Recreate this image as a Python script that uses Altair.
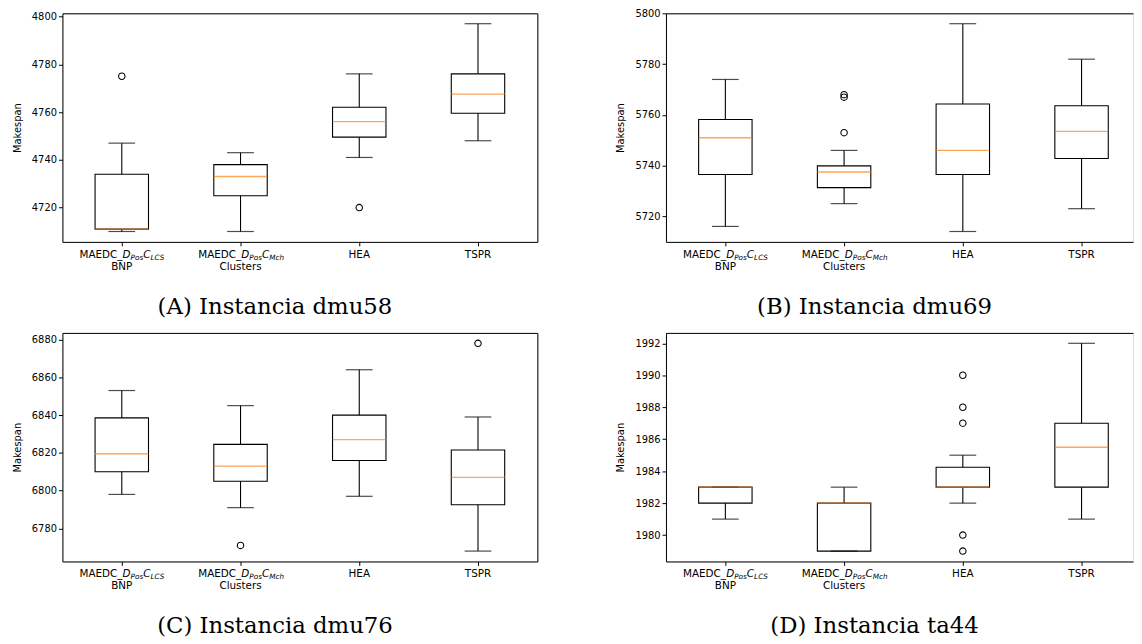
import altair as alt
import pandas as pd

CATS = ["MAEDC_BNP", "MAEDC_Clusters", "HEA", "TSPR"]

PANEL_TITLES = ["(A) Instancia dmu58", "(B) Instancia dmu69",
                "(C) Instancia dmu76", "(D) Instancia ta44"]

# ---- Panel A : dmu58 ----
A_LO = [4710, 4710, 4741, 4748]
A_Q1 = [4711, 4725, 4749.5, 4759.5]
A_MED = [4711, 4733, 4756, 4767.5]
A_Q3 = [4734, 4738, 4762, 4776]
A_HI = [4747, 4743, 4776, 4797]
A_OUT_CAT = ["MAEDC_BNP", "HEA"]
A_OUT_VAL = [4775, 4720]
A_TICKS = [4720, 4740, 4760, 4780, 4800]

# ---- Panel B : dmu69 ----
B_LO = [5716, 5725, 5714, 5723]
B_Q1 = [5736.5, 5731.3, 5736.5, 5742.8]
B_MED = [5751, 5737.5, 5746, 5753.5]
B_Q3 = [5758.2, 5739.9, 5764.3, 5763.6]
B_HI = [5774, 5746, 5796, 5782]
B_OUT_CAT = ["MAEDC_Clusters", "MAEDC_Clusters", "MAEDC_Clusters"]
B_OUT_VAL = [5753, 5767, 5768]
B_TICKS = [5720, 5740, 5760, 5780, 5800]

# ---- Panel C : dmu76 ----
C_LO = [6798, 6791, 6797, 6768]
C_Q1 = [6810, 6805, 6816, 6792.5]
C_MED = [6819.5, 6813, 6827, 6807]
C_Q3 = [6838.5, 6824.5, 6840, 6821.5]
C_HI = [6853, 6845, 6864, 6839]
C_OUT_CAT = ["MAEDC_Clusters", "TSPR"]
C_OUT_VAL = [6771, 6878]
C_TICKS = [6780, 6800, 6820, 6840, 6860, 6880]

# ---- Panel D : ta44 ----
D_LO = [1981, 1979, 1982, 1981]
D_Q1 = [1982, 1979, 1983, 1983]
D_MED = [1983, 1982, 1983, 1985.5]
D_Q3 = [1983, 1982, 1984.25, 1987]
D_HI = [1983, 1983, 1985, 1992]
D_OUT_CAT = ["HEA", "HEA", "HEA", "HEA", "HEA"]
D_OUT_VAL = [1990, 1988, 1987, 1980, 1979]
D_TICKS = [1980, 1982, 1984, 1986, 1988, 1990, 1992]

# ---- x tick label pieces ----
LBL_PRE = ["MAEDC_", "MAEDC_", "", ""]
LBL_D = ["D", "D", "", ""]
LBL_POS = ["Pos", "Pos", "", ""]
LBL_C = ["C", "C", "", ""]
LBL_SUB = ["LCS", "Mch", "", ""]
LBL_LINE2 = ["BNP", "Clusters", "", ""]
LBL_SINGLE = ["", "", "HEA", "TSPR"]

STEP = 120
H = 231
FONT = "DejaVu Sans"
ORANGE = "#ff7f0e"


def panel(lo, q1, med, q3, hi, out_cat, out_val, ticks, title, width, right_border):
    df = pd.DataFrame({"cat": CATS, "lo": lo, "q1": q1, "med": med, "q3": q3, "hi": hi})
    od = pd.DataFrame({"cat": out_cat, "val": out_val})
    ld = pd.DataFrame({"cat": CATS, "pre": LBL_PRE, "d": LBL_D, "pos": LBL_POS,
                       "c": LBL_C, "sub": LBL_SUB, "l2": LBL_LINE2, "single": LBL_SINGLE})
    allv = list(lo) + list(hi) + list(out_val)
    vmin, vmax = min(allv), max(allv)
    m = 0.05 * (vmax - vmin)
    ys = alt.Scale(domain=[vmin - m, vmax + m], nice=False, zero=False)
    pad = (width / STEP - 3) / 2
    align = (STEP / 2) / (width - 3 * STEP)
    xs = alt.Scale(type="point", domain=CATS, padding=pad, align=align)

    x_bottom = alt.Axis(title=None, labels=False, ticks=True, tickSize=4, tickColor="black",
                        domainColor="black", grid=False, orient="bottom")
    x_top = alt.Axis(title=None, labels=False, ticks=False, domainColor="black",
                     grid=False, orient="top")
    y_left = alt.Axis(title="Makespan", values=ticks, format="d", orient="left",
                      labelFont=FONT, labelFontSize=10, labelColor="black", labelPadding=2,
                      tickSize=4, tickColor="black", domainColor="black", grid=False,
                      titleFont=FONT, titleFontSize=10, titleFontWeight="normal",
                      titleColor="black", titlePadding=9)
    y_right = alt.Axis(title=None, labels=False, ticks=False, domainColor="black",
                       grid=False, orient="right") if right_border else None

    base = alt.Chart(df)
    X0 = alt.X("cat:N", scale=xs, axis=None)

    w_lo = base.mark_rule(color="black", strokeWidth=1.1).encode(
        x=alt.X("cat:N", scale=xs, axis=x_bottom),
        y=alt.Y("lo:Q", scale=ys, axis=y_left), y2="q1:Q")
    w_hi = base.mark_rule(color="black", strokeWidth=1.1).encode(
        x=alt.X("cat:N", scale=xs, axis=x_top),
        y=alt.Y("q3:Q", scale=ys, axis=y_right), y2="hi:Q")
    cap_lo = base.mark_tick(color="black", size=27, thickness=1.2).encode(
        x=X0, y=alt.Y("lo:Q", scale=ys, axis=None))
    cap_hi = base.mark_tick(color="black", size=27, thickness=1.2).encode(
        x=X0, y=alt.Y("hi:Q", scale=ys, axis=None))
    box = base.mark_bar(size=54, fillOpacity=0, stroke="black", strokeWidth=1.1).encode(
        x=X0, y=alt.Y("q1:Q", scale=ys, axis=None), y2="q3:Q")
    median = base.mark_tick(color=ORANGE, size=54, thickness=1.4).encode(
        x=X0, y=alt.Y("med:Q", scale=ys, axis=None))
    fliers = alt.Chart(od).mark_point(shape="circle", size=42, filled=False,
                                      color="black", strokeWidth=1.1, opacity=1).encode(
        x=X0, y=alt.Y("val:Q", scale=ys, axis=None))

    lb = alt.Chart(ld)
    ty1 = alt.value(H + 13)
    ty2 = alt.value(H + 25)
    fs = 10.5
    k = fs / 10
    half = 40.75 * k
    t_pre = lb.mark_text(align="left", baseline="middle", dx=-half, font=FONT,
                         fontSize=fs, color="black").encode(x=X0, y=ty1, text="pre:N")
    t_d = lb.mark_text(align="left", baseline="middle", dx=-half + 41.5 * k, font=FONT,
                       fontSize=fs, fontStyle="italic", color="black").encode(x=X0, y=ty1, text="d:N")
    t_pos = lb.mark_text(align="left", baseline="middle", dx=-half + 49.2 * k, dy=3, font=FONT,
                         fontSize=7 * k, fontStyle="italic", color="black").encode(x=X0, y=ty1, text="pos:N")
    t_c = lb.mark_text(align="left", baseline="middle", dx=-half + 61.4 * k, font=FONT,
                       fontSize=fs, fontStyle="italic", color="black").encode(x=X0, y=ty1, text="c:N")
    t_sub = lb.mark_text(align="left", baseline="middle", dx=-half + 68.4 * k, dy=3, font=FONT,
                         fontSize=7 * k, fontStyle="italic", color="black").encode(x=X0, y=ty1, text="sub:N")
    t_l2 = lb.mark_text(align="center", baseline="middle", font=FONT, fontSize=fs,
                        color="black").encode(x=X0, y=ty2, text="l2:N")
    t_single = lb.mark_text(align="center", baseline="middle", font=FONT, fontSize=fs,
                            color="black").encode(x=X0, y=ty1, text="single:N")

    return alt.layer(
        w_lo, w_hi, cap_lo, cap_hi, box, median, fliers,
        t_pre, t_d, t_pos, t_c, t_sub, t_l2, t_single,
        title=alt.TitleParams(title, orient="bottom", anchor="middle", frame="bounds",
                              font="DejaVu Serif", fontSize=23, fontWeight="normal",
                              color="black", offset=24, baseline="top"),
    ).resolve_axis(x="independent", y="independent").properties(width=width, height=H)


pa = panel(A_LO, A_Q1, A_MED, A_Q3, A_HI, A_OUT_CAT, A_OUT_VAL, A_TICKS, PANEL_TITLES[0], 480, True)
pb = panel(B_LO, B_Q1, B_MED, B_Q3, B_HI, B_OUT_CAT, B_OUT_VAL, B_TICKS, PANEL_TITLES[1], 472, False)
pc = panel(C_LO, C_Q1, C_MED, C_Q3, C_HI, C_OUT_CAT, C_OUT_VAL, C_TICKS, PANEL_TITLES[2], 480, True)
pd_ = panel(D_LO, D_Q1, D_MED, D_Q3, D_HI, D_OUT_CAT, D_OUT_VAL, D_TICKS, PANEL_TITLES[3], 472, False)

chart = alt.vconcat(
    alt.hconcat(pa, pb, spacing=78),
    alt.hconcat(pc, pd_, spacing=78),
    spacing=13,
).properties(
    padding={"left": 4, "top": -4, "right": 0, "bottom": 0}
).configure_view(stroke=None).configure(background="white")

chart.save("out.html", embed_options={"renderer": "svg", "actions": False})
